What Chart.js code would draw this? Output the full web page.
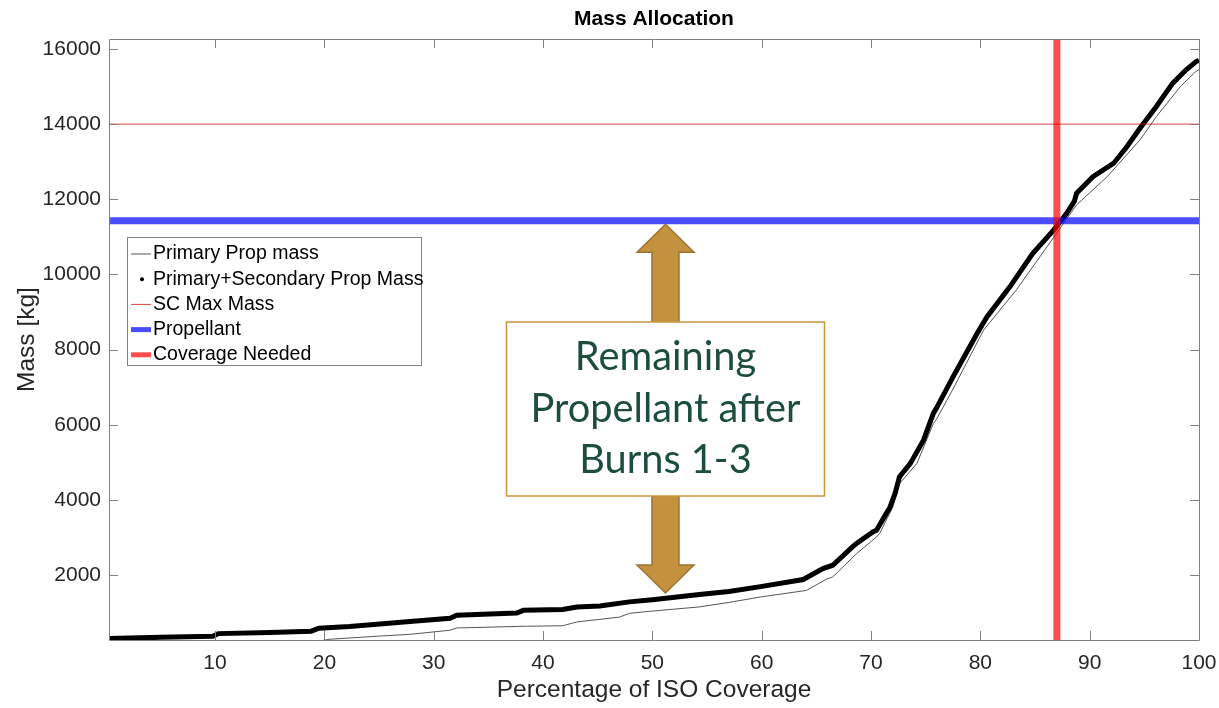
<!DOCTYPE html>
<html lang="en">
<head>
<meta charset="UTF-8">
<title>Mass Allocation</title>
<script src="https://cdn.jsdelivr.net/npm/chart.js"></script>
<style>
    html, body { margin: 0; padding: 0; background: #fff; }
</style>
</head>
<body>
<canvas id="massChart" width="1219" height="708"></canvas>
<script>
// x = percentage of ISO coverage, y = mass [kg]
var primaryX = [0.3, 10, 19, 20.5, 24.8, 27.8, 31.5, 32.1, 38.2, 41.8, 43.1, 45.2, 47, 47.9, 50, 54.3, 57, 59.9, 64.1, 65.9, 66.5, 68.7, 70.5, 70.8, 72, 72.6, 74.2, 75.7, 76, 77.5, 80.3, 83.3, 87.3, 88.8, 91.6, 94.6, 96.1, 98.3, 99.7, 100];
var primaryY = [40, 110, 220, 290, 370, 420, 530, 590, 635, 650, 750, 820, 880, 980, 1040, 1150, 1270, 1415, 1590, 1885, 1950, 2575, 3010, 3110, 3810, 4430, 4970, 6030, 6150, 6950, 8520, 9590, 11230, 11850, 12600, 13580, 14200, 15000, 15400, 15450];

var totalX = [0.3, 5, 9.8, 10.3, 15, 18.8, 19.5, 22.3, 24.8, 28.1, 31.5, 32.1, 37.6, 38.2, 41.8, 43.1, 45.2, 47.9, 50, 54.3, 57, 59.9, 63.8, 65.6, 66.5, 68.3, 68.7, 70.2, 70.5, 71.4, 71.7, 72.2, 72.6, 73.6, 74.8, 75.7, 76, 77.5, 79.7, 80.6, 82.7, 84.8, 86.7, 87.9, 88.6, 88.8, 90.3, 92.2, 93.4, 94.6, 96.1, 97.6, 98.8, 99.7, 100];
var totalY = [310, 340, 370, 440, 470, 505, 585, 630, 690, 770, 850, 930, 990, 1060, 1080, 1150, 1175, 1285, 1340, 1480, 1560, 1690, 1880, 2170, 2260, 2750, 2845, 3150, 3190, 3640, 3780, 4170, 4610, 4970, 5590, 6300, 6450, 7275, 8430, 8870, 9670, 10560, 11180, 11625, 11950, 12160, 12600, 12960, 13400, 13890, 14470, 15090, 15440, 15660, 15700];

var scMaxMass = 14000;
var propellantMass = 11430;
var coverageNeeded = 87;

var xRange = [0.3, 100];
var yRange = [270, 16266];
var xTicks = [10, 20, 30, 40, 50, 60, 70, 80, 90, 100];
var yTicks = [2000, 4000, 6000, 8000, 10000, 12000, 14000, 16000];

var noteLines = ['Remaining', 'Propellant after', 'Burns 1-3'];
var noteX = 51.2; // arrow sits at this coverage value
var noteBottomMass = 1520;

function pts(xs, ys) {
    return xs.map(function (x, i) { return { x: x, y: ys[i] }; });
}

var FONT = 'Liberation Sans, Arial, sans-serif';

var legendItems = [
    { text: 'Primary Prop mass', kind: 'line', color: '#555', width: 1 },
    { text: 'Primary+Secondary Prop Mass', kind: 'dot', color: '#000' },
    { text: 'SC Max Mass', kind: 'line', color: 'rgba(215,0,0,0.75)', width: 1 },
    { text: 'Propellant', kind: 'line', color: 'rgba(0,0,255,0.7)', width: 5 },
    { text: 'Coverage Needed', kind: 'line', color: 'rgba(255,0,0,0.7)', width: 5 }
];

// frame, inward ticks, titles, legend and the annotation, drawn MATLAB style
var matlabLook = {
    id: 'matlabLook',
    afterDatasetsDraw: function (chart) {
        var ctx = chart.ctx, a = chart.chartArea;
        var xs = chart.scales.x, ys = chart.scales.y;
        ctx.save();
        ctx.strokeStyle = '#808080';
        ctx.lineWidth = 1;
        ctx.beginPath();
        ctx.rect(Math.round(a.left) + 0.5, Math.round(a.top) + 0.5, Math.round(a.right - a.left), Math.round(a.bottom - a.top));
        ctx.stroke();
        ctx.beginPath();
        xTicks.forEach(function (v) {
            var p = Math.round(xs.getPixelForValue(v)) + 0.5;
            ctx.moveTo(p, a.bottom); ctx.lineTo(p, a.bottom - 9);
            ctx.moveTo(p, a.top); ctx.lineTo(p, a.top + 9);
        });
        yTicks.forEach(function (v) {
            var p = Math.round(ys.getPixelForValue(v)) + 0.5;
            ctx.moveTo(a.left, p); ctx.lineTo(a.left + 9, p);
            ctx.moveTo(a.right, p); ctx.lineTo(a.right - 9, p);
        });
        ctx.stroke();
        ctx.restore();
    },
    afterDraw: function (chart) {
        var ctx = chart.ctx, a = chart.chartArea;
        var xs = chart.scales.x, ys = chart.scales.y;
        var cx = (a.left + a.right) / 2, cy = (a.top + a.bottom) / 2;
        ctx.save();

        // titles
        ctx.fillStyle = '#000';
        ctx.textAlign = 'center';
        ctx.textBaseline = 'middle';
        ctx.font = 'bold 21px ' + FONT;
        ctx.fillText('Mass Allocation', cx, 19);
        ctx.fillStyle = '#262626';
        ctx.font = '24.5px ' + FONT;
        ctx.fillText('Percentage of ISO Coverage', cx, 690);
        ctx.save();
        ctx.translate(27, cy);
        ctx.rotate(-Math.PI / 2);
        ctx.fillText('Mass [kg]', 0, 0);
        ctx.restore();

        // legend
        var lx = a.left + 18, ly = 237, lw = 294, lh = 128;
        ctx.fillStyle = '#fff';
        ctx.fillRect(lx, ly, lw, lh);
        ctx.strokeStyle = '#808080';
        ctx.lineWidth = 1;
        ctx.strokeRect(lx + 0.5, ly + 0.5, lw, lh);
        ctx.font = '19.5px ' + FONT;
        ctx.textAlign = 'left';
        legendItems.forEach(function (it, i) {
            var y = ly + 16 + i * 25.2;
            if (it.kind === 'dot') {
                ctx.fillStyle = it.color;
                ctx.beginPath();
                ctx.arc(lx + 15, y + 1, 2, 0, Math.PI * 2);
                ctx.fill();
            } else {
                ctx.strokeStyle = it.color;
                ctx.lineWidth = it.width;
                ctx.beginPath();
                ctx.moveTo(lx + 4, y + 1); ctx.lineTo(lx + 24, y + 1);
                ctx.stroke();
            }
            ctx.fillStyle = '#000';
            ctx.fillText(it.text, lx + 26, y + 1);
        });

        // double arrow with the note box over it
        var ax = xs.getPixelForValue(noteX);
        var topTip = ys.getPixelForValue(propellantMass) + 3.5;
        var botTip = ys.getPixelForValue(noteBottomMass);
        var hw = 28.5, sw = 13.5, hl = 28;
        ctx.beginPath();
        ctx.moveTo(ax, topTip);
        ctx.lineTo(ax + hw, topTip + hl);
        ctx.lineTo(ax + sw, topTip + hl);
        ctx.lineTo(ax + sw, botTip - hl);
        ctx.lineTo(ax + hw, botTip - hl);
        ctx.lineTo(ax, botTip);
        ctx.lineTo(ax - hw, botTip - hl);
        ctx.lineTo(ax - sw, botTip - hl);
        ctx.lineTo(ax - sw, topTip + hl);
        ctx.lineTo(ax - hw, topTip + hl);
        ctx.closePath();
        ctx.fillStyle = '#C4923F';
        ctx.fill();
        ctx.strokeStyle = '#9A7432';
        ctx.lineWidth = 1.5;
        ctx.stroke();

        var bx = ax - 159, by = 322, bw = 318, bh = 174;
        ctx.fillStyle = '#fff';
        ctx.fillRect(bx, by, bw, bh);
        ctx.strokeStyle = '#C8963E';
        ctx.lineWidth = 1.5;
        ctx.strokeRect(bx, by, bw, bh);

        var size = 36;
        ctx.font = size + 'px Lato, "Open Sans", sans-serif';
        size = size * 270 / ctx.measureText(noteLines[1]).width;
        ctx.font = size + 'px Lato, "Open Sans", sans-serif';
        ctx.fillStyle = '#1D4E3B';
        ctx.textAlign = 'center';
        ctx.textBaseline = 'alphabetic';
        noteLines.forEach(function (t, i) {
            ctx.fillText(t, ax, by + 48 + i * 51.5);
        });
        ctx.restore();
    }
};

function plainTick(v) { return String(v); }

var ctx = document.getElementById('massChart').getContext('2d');
var massChart = new Chart(ctx, {
    type: 'scatter',
    data: {
        datasets: [{
            label: 'Coverage Needed',
            data: [{ x: coverageNeeded, y: yRange[0] }, { x: coverageNeeded, y: yRange[1] }],
            showLine: true, borderColor: 'rgba(255,0,0,0.7)', borderWidth: 7, pointRadius: 0, order: 0, clip: 0
        }, {
            label: 'Propellant',
            data: [{ x: xRange[0], y: propellantMass }, { x: xRange[1], y: propellantMass }],
            showLine: true, borderColor: 'rgba(0,0,255,0.7)', borderWidth: 7, pointRadius: 0, order: 1, clip: 0
        }, {
            label: 'SC Max Mass',
            data: [{ x: xRange[0], y: scMaxMass }, { x: xRange[1], y: scMaxMass }],
            showLine: true, borderColor: 'rgba(215,0,0,0.75)', borderWidth: 1, pointRadius: 0, order: 2, clip: 0
        }, {
            label: 'Primary+Secondary Prop Mass',
            data: pts(totalX, totalY),
            showLine: true, borderColor: '#000', borderWidth: 5, pointRadius: 0, order: 3, clip: 0
        }, {
            label: 'Primary Prop mass',
            data: pts(primaryX, primaryY),
            showLine: true, borderColor: '#555', borderWidth: 1, pointRadius: 0, order: 4, clip: 0
        }]
    },
    options: {
        responsive: false,
        devicePixelRatio: 1,
        animation: false,
        layout: { padding: { top: 39, right: 20, left: 0, bottom: 0 } },
        plugins: {
            legend: { display: false },
            tooltip: { enabled: false },
            title: { display: false }
        },
        scales: {
            x: {
                type: 'linear', min: xRange[0], max: xRange[1],
                grid: { display: false, drawTicks: false },
                border: { display: false },
                afterBuildTicks: function (s) { s.ticks = xTicks.map(function (v) { return { value: v }; }); },
                afterFit: function (s) { s.height = 68; s.paddingLeft = 0; s.paddingRight = 0; },
                ticks: { font: { family: FONT, size: 21 }, color: '#262626', padding: 11, maxRotation: 0, autoSkip: false, callback: plainTick }
            },
            y: {
                type: 'linear', min: yRange[0], max: yRange[1],
                grid: { display: false, drawTicks: false },
                border: { display: false },
                afterBuildTicks: function (s) { s.ticks = yTicks.map(function (v) { return { value: v }; }); },
                afterFit: function (s) { s.width = 109; s.paddingTop = 0; s.paddingBottom = 0; },
                ticks: { font: { family: FONT, size: 21 }, color: '#262626', padding: 8, autoSkip: false, callback: plainTick }
            }
        }
    },
    plugins: [matlabLook]
});
</script>
</body>
</html>
